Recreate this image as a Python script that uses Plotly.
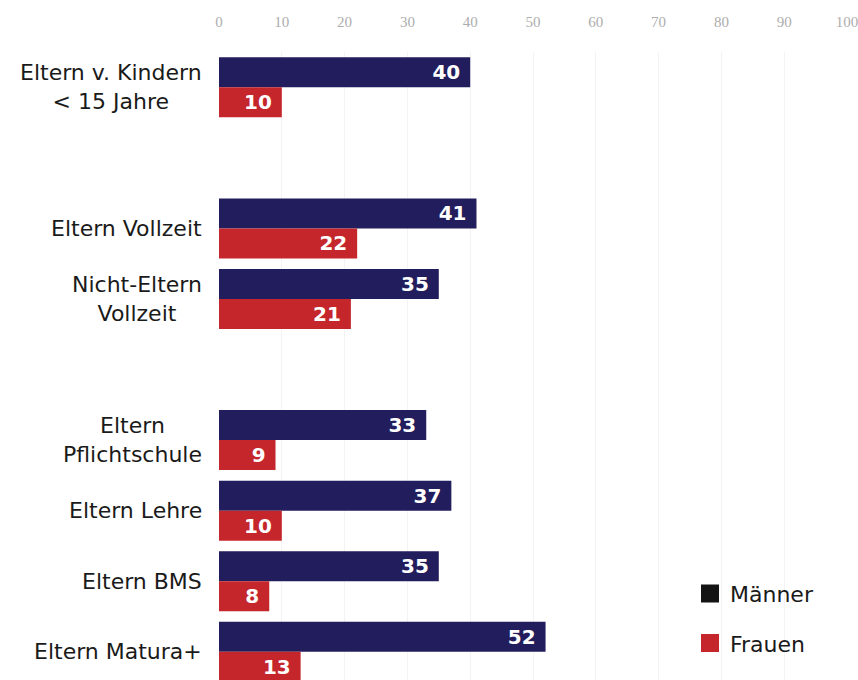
import plotly.graph_objects as go

# Category rows, top to bottom; blank rows separate the three blocks
categories = ["Eltern v. Kindern<br>&lt; 15 Jahre", " ",
              "Eltern Vollzeit", "Nicht-Eltern<br>Vollzeit", "  ",
              "Eltern<br>Pflichtschule", "Eltern Lehre", "Eltern BMS", "Eltern Matura+"]
maenner = [40, None, 41, 35, None, 33, 37, 35, 52]
frauen = [10, None, 22, 21, None, 9, 10, 8, 13]
x_ticks = [0, 10, 20, 30, 40, 50, 60, 70, 80, 90, 100]

NAVY = "#221d5c"
RED = "#c4262b"
TEXT = "#1a1a1a"
FONT = "DejaVu Sans"

fig = go.Figure()

bar_text_font = dict(family=FONT, size=20, color="white", weight="bold")

for name, vals, col in [("Männer", maenner, NAVY), ("Frauen", frauen, RED)]:
    fig.add_trace(go.Bar(
        y=categories, x=vals, orientation="h", name=name,
        marker=dict(color=col, line=dict(width=0)),
        text=[f"{v}\u00a0" if v is not None else "" for v in vals],
        textposition="inside", insidetextanchor="end",
        insidetextfont=bar_text_font, textangle=0,
        showlegend=False, hoverinfo="skip",
    ))

# Legend entries drawn as square swatches
for i, (name, col) in enumerate([("Männer", "#141414"), ("Frauen", RED)]):
    fig.add_trace(go.Scatter(
        x=[None], y=[None], mode="markers", name=name,
        marker=dict(symbol="square", size=16, color=col,
                    line=dict(color=col, width=2)),
        legendgroup=f"g{i}", showlegend=True,
    ))

# Row labels, centred line by line and right-aligned against the plot
for cat in categories:
    if cat.strip():
        fig.add_annotation(
            x=-0.024, xref="paper", y=cat, yref="y",
            text=cat, showarrow=False, xanchor="right", yanchor="middle",
            align="center", font=dict(family=FONT, size=22, color=TEXT),
        )

fig.update_layout(
    width=858, height=680,
    margin=dict(l=219, r=11, t=52, b=0),
    paper_bgcolor="white", plot_bgcolor="white",
    barmode="group", bargap=0.15, bargroupgap=0,
    showlegend=True,
    legend=dict(
        x=0.75, y=0.171, xanchor="left", yanchor="top",
        font=dict(family=FONT, size=22, color=TEXT),
        tracegroupgap=18, itemsizing="trace",
        bgcolor="rgba(0,0,0,0)",
    ),
    xaxis=dict(
        side="top", range=[0, 100], tickvals=x_ticks,
        showgrid=True, gridcolor="#f3f3f3", gridwidth=1,
        zeroline=False, showline=False, ticks="",
        tickfont=dict(family="Liberation Serif", size=15, color="#adadad"),
        ticklabelstandoff=21, ticklabeloverflow="allow",
    ),
    yaxis=dict(
        type="category", categoryorder="array", categoryarray=categories,
        range=[8.4, -0.5], showticklabels=False, showgrid=False,
        zeroline=False, showline=False, ticks="",
    ),
)

fig.write_html("out.html")
